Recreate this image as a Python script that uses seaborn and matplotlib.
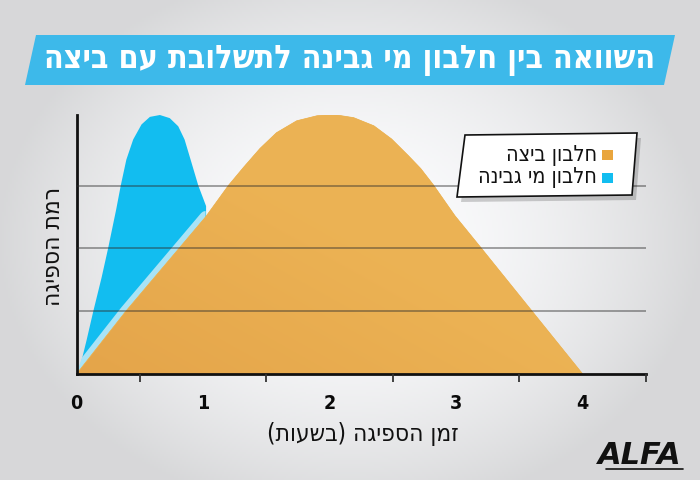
import numpy as np
import matplotlib
matplotlib.use('Agg')
import matplotlib.pyplot as plt
from matplotlib.patches import Polygon, Rectangle
from matplotlib.ticker import MultipleLocator
import seaborn as sns

sns.set_theme(style='white')
plt.rcParams['font.family'] = ['DejaVu Sans']

# ---- data ----
title = 'השוואה בין חלבון מי גבינה לתשלובת עם ביצה'
x_label = 'זמן הספיגה (בשעות)'
y_label = 'רמת הספיגה'
series_names = ['חלבון ביצה', 'חלבון מי גבינה']
series_colors = ['#e9a53d', '#12bdf0']

# whey protein curve (fast, high peak)
whey_x = [0.0, 0.036, 0.075, 0.128, 0.194, 0.246, 0.31, 0.346, 0.39, 0.444, 0.51, 0.576,
          0.655, 0.733, 0.80, 0.85, 0.905, 0.958, 1.02]
whey_y = [0.0, 0.22, 0.54, 1.0, 1.54, 2.01, 2.63, 3.01, 3.42, 3.74, 3.98, 4.10,
          4.13, 4.08, 3.95, 3.74, 3.37, 3.01, 2.68]

# egg protein curve (slow, wide)
egg_x = [0.0, 0.39, 0.81, 1.02, 1.20, 1.32, 1.45, 1.58, 1.74, 1.90, 2.03, 2.19, 2.35,
         2.49, 2.62, 2.72, 2.82, 2.99, 3.2, 3.6, 4.0]
egg_y = [0.0, 1.0, 2.0, 2.50, 3.0, 3.29, 3.59, 3.84, 4.03, 4.11, 4.13, 4.08, 3.95,
         3.74, 3.48, 3.27, 3.01, 2.52, 2.0, 1.0, 0.0]

x_ticks = [0, 1, 2, 3, 4]
x_tick_labels = ['0', '1', '2', '3', '4']
grid_levels = [1, 2, 3]


def rtl(s):
    # matplotlib has no bidi support: flip to visual order
    return s[::-1].translate(str.maketrans('()', ')('))


W, H = 700, 480
fig = plt.figure(figsize=(7, 4.8), dpi=100)

# background: soft radial grey gradient
bg = fig.add_axes([0, 0, 1, 1], zorder=-10)
gx, gy = np.meshgrid(np.linspace(-1, 1, 350), np.linspace(-1, 1, 240))
r = np.clip(np.sqrt((gx / 1.0) ** 2 + (gy / 1.15) ** 2), 0, 1)
shade = 0.99 - 0.145 * r ** 1.8
bg.imshow(np.dstack([shade, shade + 0.002, shade + 0.008]).clip(0, 1), extent=[0, 1, 0, 1],
          aspect='auto', origin='lower')
bg.set_axis_off()


def fx(px):
    return px / W


def fy(py):
    return 1 - py / H


# title band (parallelogram)
band = Polygon([(fx(25), fy(85)), (fx(36), fy(35)), (fx(675), fy(35)), (fx(664), fy(85))],
               closed=True, transform=fig.transFigure, facecolor='#3db9ea', edgecolor='none')
fig.patches.append(band)
fig.text(fx(350), fy(61), rtl(title), ha='center', va='center', color='white',
         fontsize=23, fontweight='heavy', fontstretch='condensed')

# main axes
ax = fig.add_axes([fx(76.5), fy(374), (646 - 76.5) / W, (374 - 114.5) / H])
ax.set_facecolor('none')
ax.set_xlim(0, 4.5)
ax.set_ylim(0, 4.13)

whey_patch = ax.fill_between(whey_x, whey_y, 0, color=series_colors[1], lw=0, zorder=1)
# light highlight along the egg edge, visible only inside the whey area
hl = sns.lineplot(x=egg_x[:4], y=egg_y[:4], ax=ax, color='#a9e3f6', lw=8.5,
                  sort=False, zorder=1.2).lines[-1]
hl.set_clip_path(whey_patch.get_paths()[0], ax.transData)
egg_patch = ax.fill(egg_x, egg_y, color='#ebb252', lw=0, zorder=1.5)[0]
# subtle gradient inside the egg area
ex, ey = np.meshgrid(np.linspace(0, 1, 200), np.linspace(0, 1, 200))
t = np.clip(0.55 * ex + 0.45 * ey, 0, 1)
c0 = np.array([0.895, 0.645, 0.29])
c1 = np.array([0.925, 0.70, 0.33])
grad = c0 + (c1 - c0) * np.minimum(t * 2, 1)[..., None]
im = ax.imshow(grad, extent=[0, 4.5, 0, 4.13], origin='lower', aspect='auto', zorder=1.6)
im.set_clip_path(egg_patch)
sns.lineplot(x=egg_x, y=egg_y, ax=ax, color='#ebb252', lw=0.5, sort=False, zorder=1.7)

ax.set_yticks(grid_levels)
ax.grid(axis='y', color='#2e2e2e', alpha=0.55, lw=1.1)
ax.grid(axis='x', visible=False)
ax.set_axisbelow(False)

ax.set_xticks(x_ticks, x_tick_labels)
ax.xaxis.set_minor_locator(MultipleLocator(0.5))
ax.tick_params(axis='x', which='major', direction='inout', length=11, width=2,
               color='#111111', pad=9, labelsize=14, labelcolor='#0a0a0a')
ax.tick_params(axis='x', which='minor', direction='out', length=6, width=1.3,
               color='#333333', bottom=True)
for lab in ax.get_xticklabels():
    lab.set_fontweight('heavy')
    lab.set_fontstretch('condensed')
ax.tick_params(axis='y', length=0, labelleft=False)

sns.despine(ax=ax)
for s in ['left', 'bottom']:
    ax.spines[s].set_linewidth(2)
    ax.spines[s].set_color('#111111')

ax.set_xlabel('')
ax.set_ylabel('')
fig.text(fx(363), fy(434), rtl(x_label), ha='center', va='center', fontsize=17.5,
         fontstretch='condensed', color='#111111')
fig.text(fx(53), fy(246), rtl(y_label), ha='center', va='center', rotation=90,
         fontsize=17.5, fontstretch='condensed', color='#111111')

# legend box (slanted, with shadow)
box = [(457, 197), (465, 135), (637, 133), (632, 195)]
shadow = Polygon([(fx(x + 4), fy(y + 5)) for x, y in box], closed=True,
                 transform=fig.transFigure, facecolor='#000000', alpha=0.18, edgecolor='none')
fig.patches.append(shadow)
legbox = Polygon([(fx(x), fy(y)) for x, y in box], closed=True, transform=fig.transFigure,
                 facecolor='white', edgecolor='#111111', lw=1.2)
fig.patches.append(legbox)
for i, (name, col) in enumerate(zip(series_names, series_colors)):
    yy = 155 + i * 23
    fig.patches.append(Rectangle((fx(602), fy(yy + 5)), 11 / W, 10 / H,
                                 transform=fig.transFigure, facecolor=col, edgecolor='none'))
    fig.text(fx(597), fy(yy), rtl(name), ha='right', va='center', fontsize=15.5,
             fontstretch='condensed', color='#111111')

# logo
fig.text(fx(640), fy(456), 'ALFA', ha='center', va='center', fontsize=22,
         fontweight='heavy', style='italic', color='#111111')
fig.add_artist(plt.Line2D([fx(606), fx(683)], [fy(469), fy(469)], color='#111111', lw=1.2))

fig.savefig('out.png', dpi=100)
